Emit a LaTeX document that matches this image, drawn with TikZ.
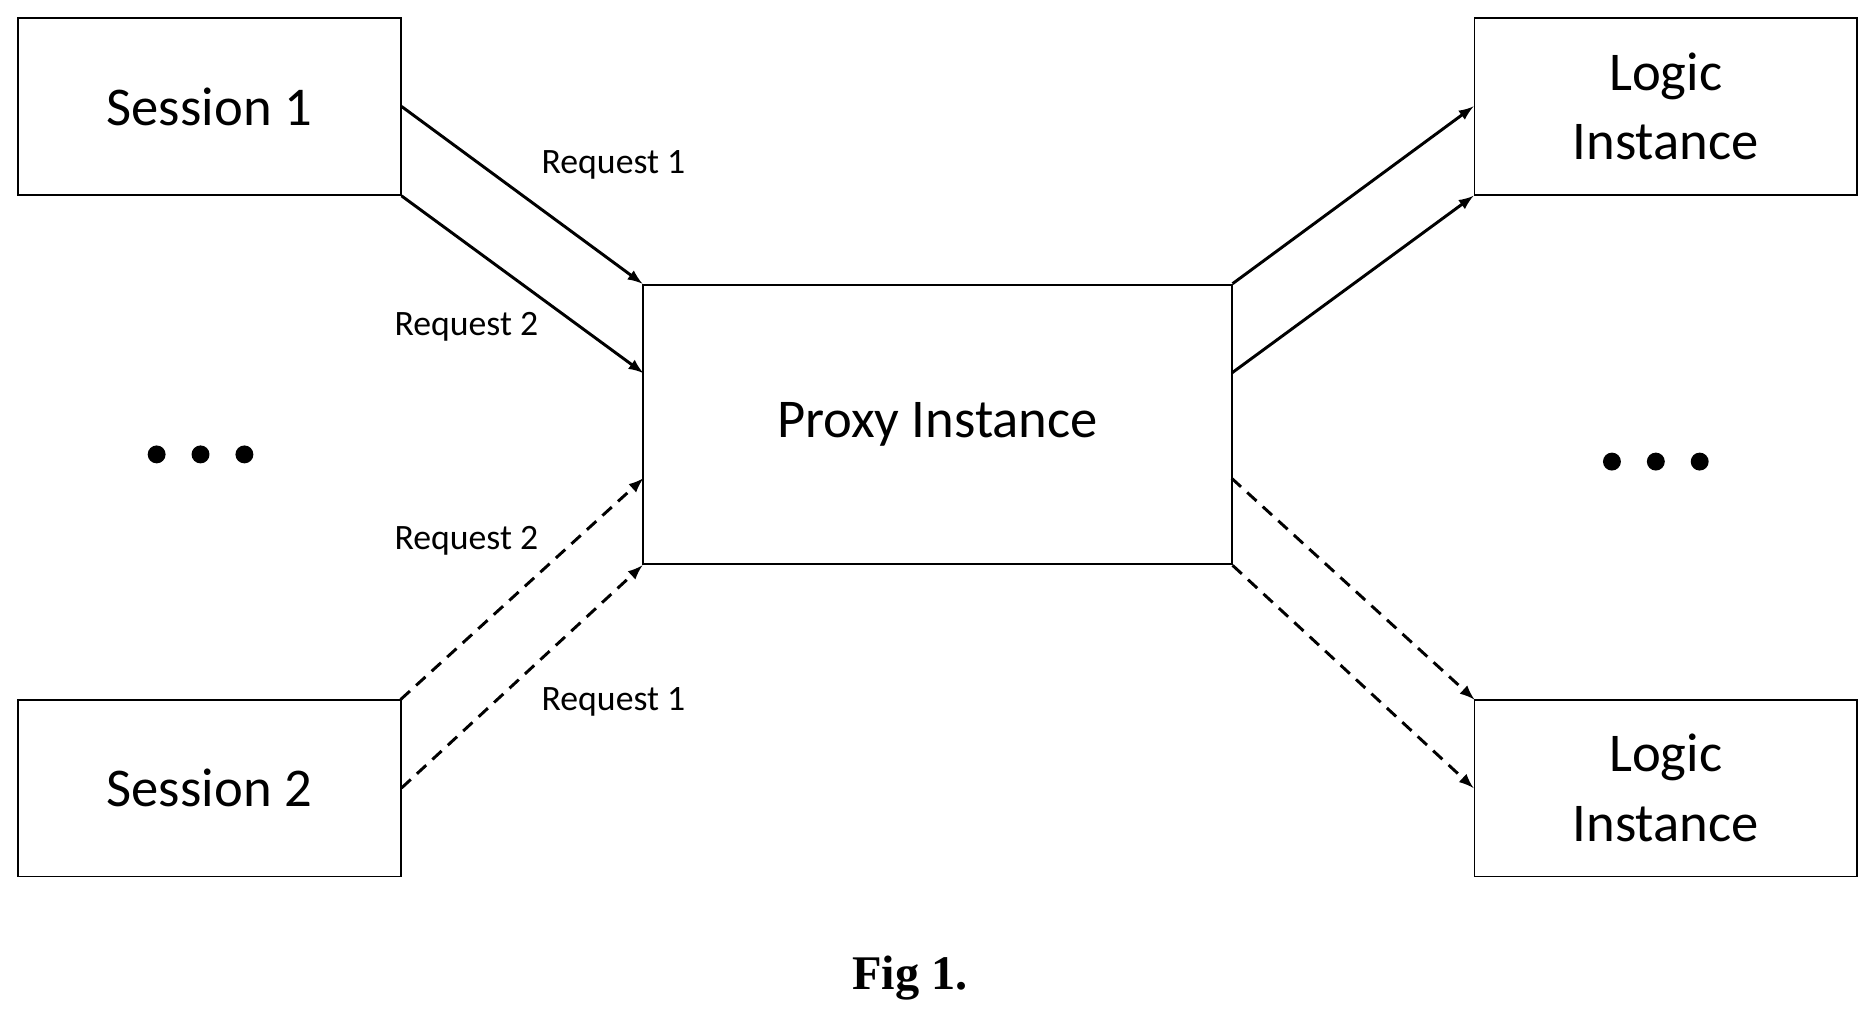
\documentclass[tikz,border=0pt]{standalone}
\usepackage{fontspec}
\setmainfont{Carlito}
\newfontfamily\figfont{Liberation Serif}
\usetikzlibrary{positioning}
\tikzset{>=latex, x=0.02cm, y=-0.02cm}
\tikzstyle{block} = [draw, line width=0.9pt, rectangle, minimum width=6.4cm, minimum height=2.96cm, align=center, font=\fontsize{26}{33}\selectfont, inner sep=0pt]
\tikzstyle{label} = [font=\fontsize{17}{18}\selectfont]
\tikzstyle{dot} = [circle, fill, minimum size=0.3cm, inner sep=0pt]
\tikzstyle{link} = [->, line width=1.4pt]
\tikzstyle{dlink} = [->, line width=1.4pt, dash pattern=on 6pt off 4pt]
\begin{document}
\begin{tikzpicture}
		\useasboundingbox (0,0) rectangle (1568,855);

		\node [block] (s1) at (175,89) {Session 1};
		\node [block] (s2) at (175,659) {Session 2};
		\node [block, minimum width=9.84cm, minimum height=4.68cm] (px) at (784,355) {Proxy Instance};
		\node [block] (l1) at (1393,89) {Logic\\Instance};
		\node [block] (l2) at (1393,659) {Logic\\Instance};

		\node [dot] (d1) at (131,380) {};
		\node [dot, right=0.42cm of d1] (d2) {};
		\node [dot, right=0.42cm of d2] (d3) {};
		\node [dot] (e1) at (1348,386) {};
		\node [dot, right=0.42cm of e1] (e2) {};
		\node [dot, right=0.42cm of e2] (e3) {};

		\coordinate (px_a) at (538,312);
		\coordinate (px_b) at (538,400);
		\coordinate (px_c) at (1030,312);
		\coordinate (px_d) at (1030,400);
		\coordinate (s2_a) at (335,585);
		\coordinate (l2_a) at (1233,585);

		\draw [link] (s1.east) -- (px.north west);
		\draw [link] (s1.south east) -- (px_a);
		\draw [dlink] (s2_a) -- (px_b);
		\draw [dlink] (s2.east) -- (px.south west);

		\draw [link] (px.north east) -- (l1.west);
		\draw [link] (px_c) -- (l1.south west);
		\draw [dlink] (px_d) -- (l2_a);
		\draw [dlink] (px.south east) -- (l2.west);

		\node [label] (r1) at (513,138) {Request 1};
		\node [label] (r2) at (390,273) {Request 2};
		\node [label] (r3) at (390,452) {Request 2};
		\node [label] (r4) at (513,587) {Request 1};

		\node [font=\figfont\fontsize{23}{24}\selectfont\bfseries] (fig) at (761,818) {Fig 1.};
	\end{tikzpicture}
\end{document}
